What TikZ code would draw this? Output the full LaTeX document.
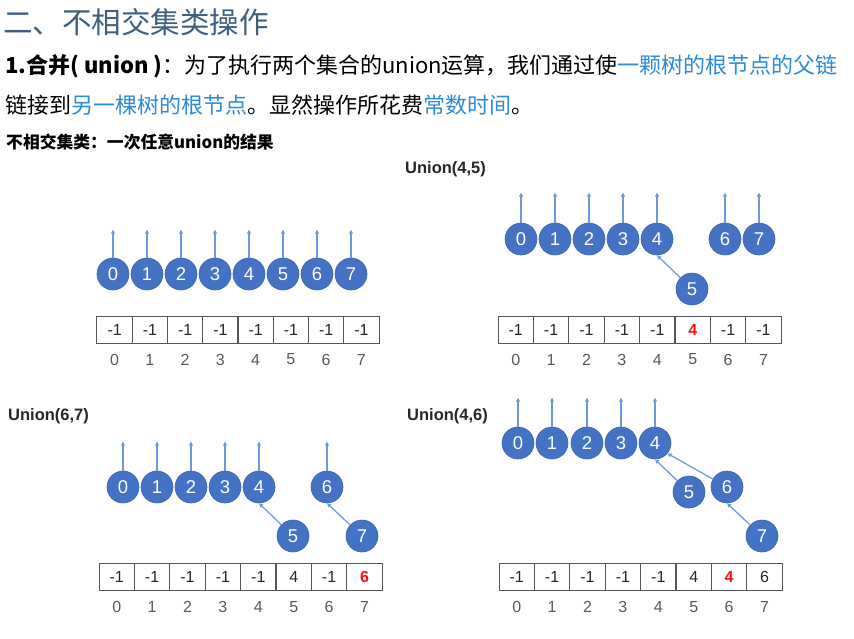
\documentclass[tikz,border=0pt]{standalone}
\usepackage{fontspec}
\setmainfont{Liberation Sans}
\newfontfamily\cjk{Noto Sans CJK SC}
\usetikzlibrary{arrows.meta,calc}
\definecolor{headc}{HTML}{3F5F7F}
\definecolor{linkc}{HTML}{2E8BD8}
\definecolor{nodec}{HTML}{4472C4}
\definecolor{nodeb}{HTML}{3A64B0}
\definecolor{arrc}{HTML}{6E98DA}
\definecolor{cellb}{HTML}{555555}
\definecolor{idxc}{HTML}{595959}
\definecolor{hlred}{HTML}{FF1010}
\newcommand\hlv[1]{\textcolor{hlred}{\textbf{#1}}}
\begin{document}
\begin{tikzpicture}[x=1pt,y=-1pt,
  vnode/.style={circle,fill=nodec,draw=nodeb,line width=0.6pt,minimum size=32pt,inner sep=0pt,text=white,font=\fontsize{18.5}{18.5}\selectfont},
  uparr/.style={draw=arrc,line width=1.2pt,-{Triangle[length=4pt,width=4pt]}},
  link/.style={draw=arrc,line width=1.2pt,-{Triangle[length=4pt,width=4pt]}},
  cell/.style={rectangle,draw=cellb,line width=1pt,minimum width=35.3pt,minimum height=27pt,inner sep=0pt,font=\fontsize{16}{16}\selectfont,text=black!85},
  idx/.style={font=\fontsize{16}{16}\selectfont,text=idxc,inner sep=0pt},
  uni/.style={anchor=base west,inner sep=0pt,font=\bfseries\fontsize{16.5}{16.5}\selectfont,text=black!85},
  txt/.style={anchor=base west,inner sep=0pt}
]
\useasboundingbox (0,0) rectangle (854,638);
\fill[white] (0,0) rectangle (854,638);

% ---------- text ----------
\node[txt,text=headc,font=\cjk\fontsize{29.5}{29.5}\selectfont] (title) at (3,33) {二、不相交集类操作};
\node[txt,font=\cjk\fontsize{22}{22}\selectfont] (l1) at (5,73) {\textbf{1.合并( union )}：为了执行两个集合的union运算，我们通过使\textcolor{linkc}{一颗树的根节点的父链}};
\node[txt,font=\cjk\fontsize{22}{22}\selectfont] (l2) at (5,113) {链接到\textcolor{linkc}{另一棵树的根节点}。显然操作所花费\textcolor{linkc}{常数时间}。};
\node[txt,font=\cjk\bfseries\fontsize{16.8}{16.8}\selectfont] (l3) at (6,148) {不相交集类：一次任意union的结果};

% ---------- panel 1 ----------
\foreach \i/\x in {0/113,1/147,2/181,3/215,4/249,5/283,6/317,7/351}
  \node[vnode] (a\i) at (\x,274) {\i};
\foreach \i in {0,...,7} {
  \coordinate (a\i-t) at ($(a\i.north)+(0,-28)$);
  \draw[uparr] (a\i.north) -- (a\i-t);
}
\foreach \v [count=\k from 0] in {-1,-1,-1,-1,-1,-1,-1,-1} {
  \node[cell] (ac\k) at ({97+35.25*(\k+0.5)},329.5) {\v};
  \node[idx] (ai\k) at ($(ac\k)+(0,30)$) {\k};
}

% ---------- panel 2 ----------
\node[uni] (u45) at (405,173) {Union(4,5)};
\foreach \i/\x in {0/521,1/555,2/589,3/623,4/657,6/725,7/759}
  \node[vnode] (b\i) at (\x,239) {\i};
\node[vnode] (b5) at (692,289) {5};
\foreach \i in {0,1,2,3,4,6,7} {
  \coordinate (b\i-t) at ($(b\i.north)+(0,-30)$);
  \draw[uparr] (b\i.north) -- (b\i-t);
}
\draw[link] (b5) -- (b4.south);
\foreach \v [count=\k from 0] in {-1,-1,-1,-1,-1,{\hlv{4}},-1,-1} {
  \node[cell] (bc\k) at ({498+35.4*(\k+0.5)},329.5) {\v};
  \node[idx] (bi\k) at ($(bc\k)+(0,30)$) {\k};
}

% ---------- panel 3 ----------
\node[uni] (u67) at (8,420) {Union(6,7)};
\foreach \i/\x in {0/123,1/157,2/191,3/225,4/259,6/327}
  \node[vnode] (c\i) at (\x,487) {\i};
\node[vnode] (c5) at (293,536) {5};
\node[vnode] (c7) at (362,536) {7};
\foreach \i in {0,1,2,3,4,6} {
  \coordinate (c\i-t) at ($(c\i.north)+(0,-29)$);
  \draw[uparr] (c\i.north) -- (c\i-t);
}
\draw[link] (c5) -- (c4.south);
\draw[link] (c7) -- (c6.south);
\foreach \v [count=\k from 0] in {-1,-1,-1,-1,-1,4,-1,{\hlv{6}}} {
  \node[cell] (cc\k) at ({99+35.4*(\k+0.5)},577) {\v};
  \node[idx] (ci\k) at ($(cc\k)+(0,30)$) {\k};
}

% ---------- panel 4 ----------
\node[uni] (u46) at (407,420) {Union(4,6)};
\foreach \i/\x in {0/518,1/552,2/587,3/621,4/655}
  \node[vnode] (d\i) at (\x,443) {\i};
\node[vnode] (d5) at (689,492) {5};
\node[vnode] (d6) at (727,487) {6};
\node[vnode] (d7) at (762,536) {7};
\foreach \i in {0,1,2,3,4} {
  \coordinate (d\i-t) at ($(d\i.north)+(0,-29)$);
  \draw[uparr] (d\i.north) -- (d\i-t);
}
\draw[link] (d5) -- (d4.south);
\draw[link] (d6) -- (d4.-40);
\draw[link] (d7) -- (d6.south);
\foreach \v [count=\k from 0] in {-1,-1,-1,-1,-1,4,{\hlv{4}},6} {
  \node[cell] (dc\k) at ({499+35.4*(\k+0.5)},577) {\v};
  \node[idx] (di\k) at ($(dc\k)+(0,30)$) {\k};
}
\end{tikzpicture}
\end{document}
